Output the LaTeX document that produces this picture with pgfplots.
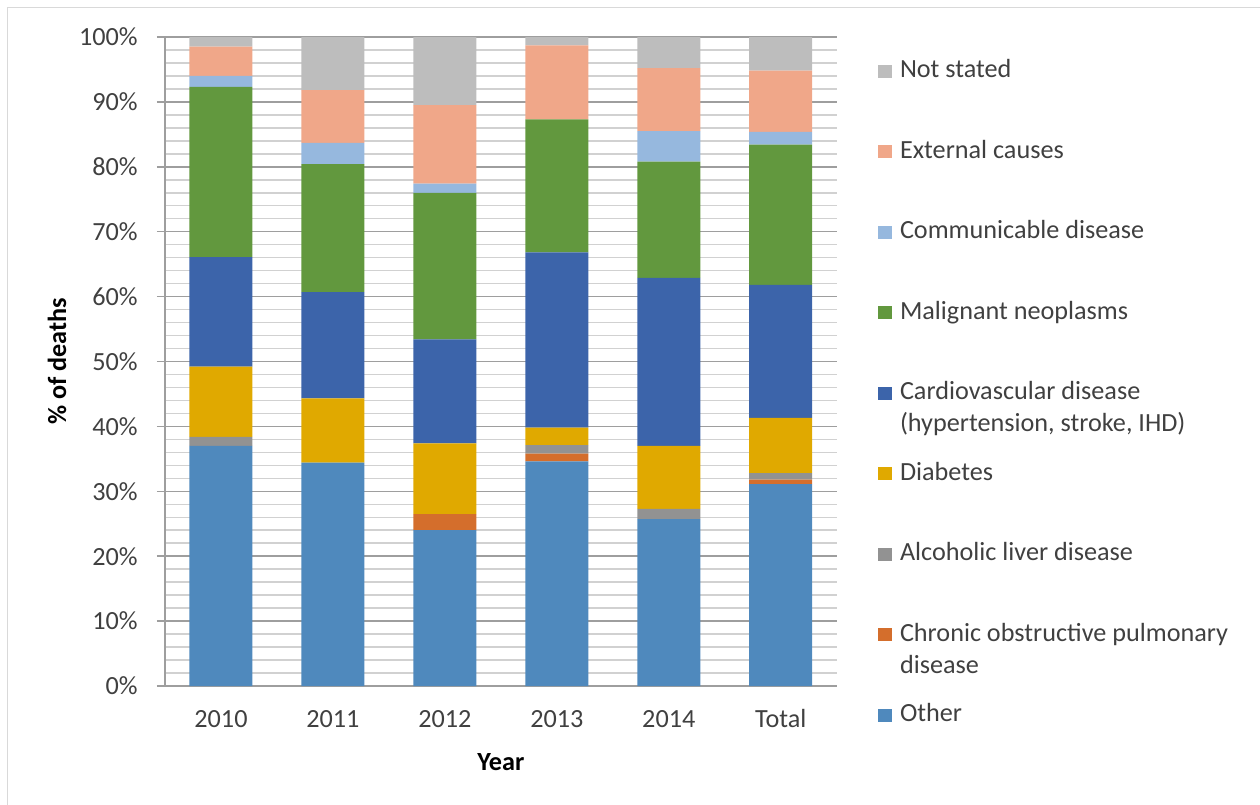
\documentclass[border=0pt]{standalone}
\usepackage{fontspec}
\setmainfont{Carlito}
\usepackage{pgfplots}
\usepackage{pgfplotstable}
\pgfplotsset{compat=1.18}
\definecolor{cOther}{RGB}{79,137,189}
\definecolor{cCOPD}{RGB}{212,110,44}
\definecolor{cAlc}{RGB}{146,146,146}
\definecolor{cDiab}{RGB}{224,169,0}
\definecolor{cCVD}{RGB}{60,100,170}
\definecolor{cMal}{RGB}{98,152,62}
\definecolor{cComm}{RGB}{150,184,222}
\definecolor{cExt}{RGB}{240,167,137}
\definecolor{cNS}{RGB}{189,189,189}
\definecolor{txt}{RGB}{64,64,64}

\pgfplotstableread{
x Other COPD Alc Diab CVD Mal Comm Ext NS
0 37.0 0.0 1.4 10.8 16.9 26.2 1.7 4.5 1.5
1 34.4 0.0 0.0 9.9 16.4 19.7 3.3 8.1 8.2
2 24.0 2.5 0.0 10.9 16.0 22.6 1.4 12.1 10.5
3 34.6 1.2 1.3 2.7 27.0 20.5 0.0 11.4 1.3
4 25.7 0.0 1.6 9.7 25.9 17.9 4.7 9.7 4.8
5 31.1 0.7 1.0 8.5 20.5 21.6 2.0 9.4 5.2
}\data

\pgfplotsset{sq/.style={legend image code/.code={\fill[##1] (0bp,-0.2bp) rectangle (7bp,6.5bp); \path (11bp,0bp);}}}

\begin{document}
\begin{tikzpicture}
\path[use as bounding box] (0,0) rectangle (630bp,-402.5bp);
\draw[color=black!15, line width=0.75bp] (3.75bp,-402.5bp) -- (3.75bp,-3.75bp) -- (630bp,-3.75bp);
\begin{axis}[
  at={(82.5bp,-18.5bp)}, anchor=north west,
  scale only axis, width=335.85bp, height=324.5bp,
  ybar stacked, bar width=31.5bp,
  xmin=-0.5, xmax=5.5, ymin=0, ymax=100,
  xtick=data, xticklabels={2010,2011,2012,2013,2014,Total},
  ytick={0,10,...,100},
  yticklabels={0\%,10\%,20\%,30\%,40\%,50\%,60\%,70\%,80\%,90\%,100\%},
  minor ytick={0,2,...,100},
  ymajorgrids, yminorgrids,
  major grid style={color=black!38, line width=0.75bp},
  minor grid style={color=black!18, line width=0.75bp},
  axis lines*=left,
  axis line style={color=black!38, line width=0.75bp},
  tick align=outside,
  major tick length=4bp, minor tick length=0pt,
  xtick style={draw=none},
  ytick style={color=black!38, line width=0.75bp},
  tick label style={font=\fontsize{13.1bp}{16bp}\selectfont, text=txt},
  yticklabel style={anchor=east, inner sep=0pt, xshift=-9.5bp},
  xticklabel style={anchor=north, inner sep=0pt, text height=9bp, text depth=0pt, yshift=-7.5bp},
  label style={font=\fontsize{13.1bp}{16bp}\selectfont\bfseries},
  xlabel={Year}, ylabel={\% of deaths},
  xlabel style={at={(axis description cs:0.5,-0.117)}, anchor=center},
  ylabel style={at={(axis description cs:-0.1608,0.5)}, anchor=center},
  reverse legend,
  legend cell align=left,
  legend style={at={(1.0615,0.9653)}, anchor=north west, draw=none, fill=none,
    inner sep=0pt, outer sep=0pt, row sep=28.25bp,
    font=\fontsize{13.1bp}{16bp}\selectfont,
    nodes={inner sep=0pt, text height=9bp, text depth=3bp, anchor=base west, text=txt}},
]
\addplot[fill=cOther, draw=none, sq] table[x=x, y=Other] {\data};
\addlegendentry{Other}
\addplot[fill=cCOPD, draw=none, sq] table[x=x, y=COPD] {\data};
\addlegendentry{\smash{\vtop{\hbox{Chronic obstructive pulmonary}\hbox{disease}}}}
\addplot[fill=cAlc, draw=none, sq] table[x=x, y=Alc] {\data};
\addlegendentry{Alcoholic liver disease}
\addplot[fill=cDiab, draw=none, sq] table[x=x, y=Diab] {\data};
\addlegendentry{Diabetes}
\addplot[fill=cCVD, draw=none, sq] table[x=x, y=CVD] {\data};
\addlegendentry{\smash{\vtop{\hbox{Cardiovascular disease}\hbox{(hypertension, stroke, IHD)}}}}
\addplot[fill=cMal, draw=none, sq] table[x=x, y=Mal] {\data};
\addlegendentry{Malignant neoplasms}
\addplot[fill=cComm, draw=none, sq] table[x=x, y=Comm] {\data};
\addlegendentry{Communicable disease}
\addplot[fill=cExt, draw=none, sq] table[x=x, y=Ext] {\data};
\addlegendentry{External causes}
\addplot[fill=cNS, draw=none, sq] table[x=x, y=NS] {\data};
\addlegendentry{Not stated}
\end{axis}
\end{tikzpicture}
\end{document}
